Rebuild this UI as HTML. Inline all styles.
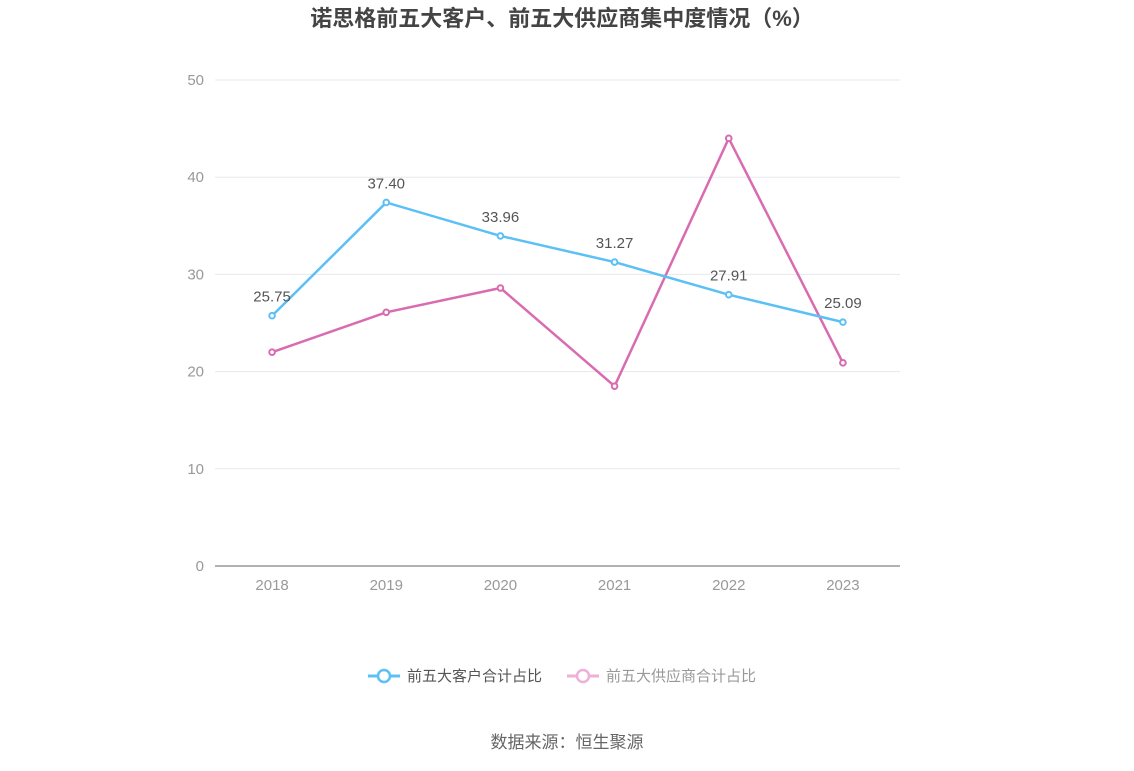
<!DOCTYPE html>
<html><head><meta charset="utf-8"><style>
body{margin:0;background:#fff;font-family:"Liberation Sans","Noto Sans CJK SC",sans-serif;}
</style></head><body>
<svg width="1134" height="766" xmlns="http://www.w3.org/2000/svg" font-family="Liberation Sans, Noto Sans CJK SC, sans-serif">
<text x="562" y="26" text-anchor="middle" font-size="22" font-weight="bold" fill="#444">诺思格前五大客户、前五大供应商集中度情况（%）</text>
<g id="grid"></g><g id="axis"></g><g id="series"></g>
<g>
<g>
<line x1="368" y1="676" x2="400" y2="676" stroke="#5bc0f5" stroke-width="3"/>
<circle cx="384" cy="676" r="6" fill="#fff" stroke="#5bc0f5" stroke-width="2.5"/>
<text x="407" y="681" font-size="15" fill="#555">前五大客户合计占比</text></g>
<g>
<line x1="567" y1="676" x2="599" y2="676" stroke="#eeb0d8" stroke-width="3"/>
<circle cx="583" cy="676" r="6" fill="#fff" stroke="#eeb0d8" stroke-width="2.5"/>
<text x="606" y="681" font-size="15" fill="#999">前五大供应商合计占比</text></g>
</g>
<text x="567" y="748" text-anchor="middle" font-size="17" fill="#666">数据来源：恒生聚源</text>
</svg>
<script>
const categories=["2018","2019","2020","2021","2022","2023"];
const customers=[25.75,37.40,33.96,31.27,27.91,25.09];
const suppliers=[22.0,26.1,28.6,18.5,44.0,20.9];
const yTicks=[0,10,20,30,40,50];
const NS="http://www.w3.org/2000/svg";
const x0=215,x1=900,y0=566,y1=80,yMax=50;
const step=(x1-x0)/categories.length;
const xs=i=>x0+step*(i+0.5);
const ys=v=>y0-(v/yMax)*(y0-y1);
function mk(tag,attrs,parent){const e=document.createElementNS(NS,tag);for(const k in attrs)e.setAttribute(k,attrs[k]);parent.appendChild(e);return e;}
const grid=document.getElementById('grid'),axis=document.getElementById('axis'),series=document.getElementById('series');
yTicks.forEach(t=>{
 if(t>0){const l=mk('line',{x1:x0,x2:x1,y1:ys(t),y2:ys(t),stroke:'#e6e8f0'},grid);
 
 }
 const tx=mk('text',{x:204,y:ys(t)+5,'text-anchor':'end','font-size':15,fill:'#999'},axis);tx.textContent=t;
 
 
});
const ax=mk('line',{x1:x0,x2:x1,y1:y0,y2:y0,stroke:'#999','stroke-width':1.5},axis);


categories.forEach((c,i)=>{
 const tx=mk('text',{x:xs(i),y:y0+24,'text-anchor':'middle','font-size':15,fill:'#999'},axis);tx.textContent=c;
 
 
});
function draw(vals,color,name,labels){
 const p=mk('polyline',{points:vals.map((v,i)=>xs(i)+','+ys(v)).join(' '),fill:'none',stroke:color,'stroke-width':2.5},series);
 
 
 vals.forEach((v,i)=>{
  const c=mk('circle',{cx:xs(i),cy:ys(v),r:2.8,fill:'#fff',stroke:color,'stroke-width':2},series);
  
  
  if(labels){const t=mk('text',{x:xs(i),y:ys(v)-14,'text-anchor':'middle','font-size':15,fill:'#555'},series);t.textContent=v.toFixed(2);
  
  }
 });
}
draw(suppliers,'#d96bb0','suppliers',false);
draw(customers,'#5bc0f5','customers',true);
</script>
</body></html>
